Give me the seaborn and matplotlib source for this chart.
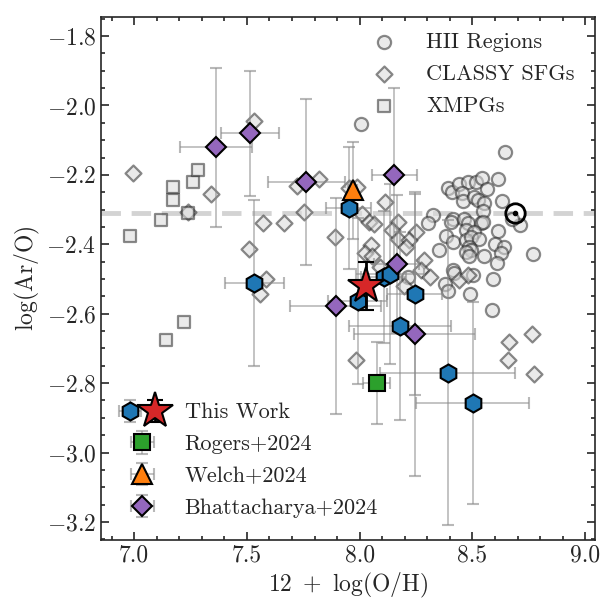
import numpy as np
import pandas as pd
import seaborn as sns
import matplotlib.pyplot as plt
from matplotlib.legend_handler import HandlerTuple

# ---- background samples ----
hii_oh = [8.646, 8.390, 8.408, 8.441, 8.479, 8.516, 8.542, 8.612, 8.564, 8.452,
          8.456, 8.508, 8.523, 8.552, 8.630, 8.548, 8.323, 8.301, 8.412, 8.404,
          8.464, 8.479, 8.471, 8.538, 8.548, 8.508, 8.612, 8.711, 8.382, 8.412,
          8.471, 8.493, 8.530, 8.486, 8.493, 8.471, 8.486, 8.600, 8.639, 8.627,
          8.552, 8.609, 8.768, 8.412, 8.419, 8.501, 8.590, 8.378, 8.390, 8.489,
          8.587, 8.004, 8.212, 8.676, 8.351]
hii_aro = [-2.135, -2.237, -2.249, -2.225, -2.220, -2.220, -2.208, -2.212, -2.242, -2.253,
           -2.275, -2.263, -2.271, -2.282, -2.276, -2.303, -2.316, -2.340, -2.328, -2.335,
           -2.328, -2.340, -2.359, -2.340, -2.335, -2.364, -2.362, -2.345, -2.376, -2.393,
           -2.388, -2.378, -2.385, -2.407, -2.417, -2.422, -2.434, -2.399, -2.407, -2.425,
           -2.434, -2.453, -2.427, -2.474, -2.484, -2.489, -2.500, -2.515, -2.535, -2.544,
           -2.588, -2.054, -2.494, -2.327, -2.417]

classy_oh = [6.997, 7.342, 7.533, 7.723, 7.819, 7.952, 7.990, 7.237, 7.572, 7.664,
             7.752, 7.508, 7.585, 7.556, 7.890, 7.982, 8.111, 8.008, 8.041, 8.062,
             8.168, 8.145, 8.249, 8.168, 8.219, 8.204, 8.052, 8.025, 8.056, 8.092,
             8.286, 8.273, 8.311, 8.197, 8.441, 8.482, 8.664, 8.763, 8.656, 8.775]
classy_aro = [-2.194, -2.256, -2.045, -2.232, -2.212, -2.239, -2.235, -2.308, -2.340, -2.338,
              -2.306, -2.414, -2.499, -2.544, -2.380, -2.732, -2.279, -2.313, -2.335, -2.342,
              -2.335, -2.359, -2.364, -2.385, -2.388, -2.409, -2.401, -2.426, -2.434, -2.465,
              -2.444, -2.473, -2.494, -2.520, -2.503, -2.489, -2.681, -2.659, -2.734, -2.774]

xmpg_oh = [6.982, 7.119, 7.172, 7.172, 7.237, 7.262, 7.283, 7.222, 7.142]
xmpg_aro = [-2.375, -2.330, -2.234, -2.271, -2.311, -2.220, -2.186, -2.623, -2.676]

# ---- this work ----
tw_oh = [7.533, 7.951, 7.991, 8.107, 8.133, 8.243, 8.178, 8.390, 8.501]
tw_aro = [-2.512, -2.296, -2.563, -2.495, -2.486, -2.544, -2.636, -2.770, -2.857]
tw_oh_err = [0.13, 0.10, 0.13, 0.10, 0.15, 0.12, 0.225, 0.30, 0.25]
tw_aro_err = [0.24, 0.175, 0.24, 0.19, 0.26, 0.29, 0.27, 0.44, 0.29]

stack_oh, stack_aro, stack_aro_err = 8.03, -2.52, 0.07

# ---- literature ----
rogers_oh, rogers_aro, rogers_oh_err, rogers_aro_err = 8.076, -2.799, 0.06, 0.118
welch_oh, welch_aro, welch_oh_err, welch_aro_err = 7.969, -2.244, 0.02, 0.14

bhat_oh = [7.363, 7.514, 7.764, 8.153, 8.164, 7.893, 8.243]
bhat_aro = [-2.121, -2.080, -2.220, -2.200, -2.457, -2.578, -2.659]
bhat_oh_err = [0.16, 0.13, 0.17, 0.10, 0.10, 0.20, 0.27]
bhat_aro_err = [0.23, 0.18, 0.24, 0.25, 0.20, 0.31, 0.41]

solar_oh, solar_aro = 8.69, -2.31

sns.set_style("ticks")
plt.rcParams['font.family'] = ['cmr10', 'DejaVu Serif']
plt.rcParams['mathtext.fontset'] = 'cm'
plt.rcParams['axes.formatter.use_mathtext'] = True
plt.rcParams['axes.unicode_minus'] = True

fig = plt.figure(figsize=(6.03, 6.01), dpi=100)
ax = fig.add_axes([0.1675, 0.1015, 0.8195, 0.8703])

bg = dict(facecolor='#d9d9d9', edgecolor='#2b2b2b', alpha=0.55, linewidth=1.6, zorder=2)
sns.scatterplot(x=hii_oh, y=hii_aro, marker='o', s=90, label='HII Regions', ax=ax, **bg)
sns.scatterplot(x=classy_oh, y=classy_aro, marker='D', s=66, label='CLASSY SFGs', ax=ax, **bg)
sns.scatterplot(x=xmpg_oh, y=xmpg_aro, marker='s', s=75, label='XMPGs', ax=ax, **bg)

ax.axhline(solar_aro, color='#c8c8c8', lw=3.5, ls=(0, (4, 2.2)), alpha=0.8, zorder=1)
ax.plot(solar_oh, solar_aro, 'o', ms=14, mfc='none', mec='k', mew=2, zorder=6)
ax.plot(solar_oh, solar_aro, 'o', ms=3, color='k', zorder=6)

eb = dict(ecolor='#8a8a8a', elinewidth=1.2, capsize=4, capthick=1.2, linestyle='none',
          mec='k', mew=1.5)
h_tw = ax.errorbar(tw_oh, tw_aro, xerr=tw_oh_err, yerr=tw_aro_err, fmt='h', ms=13,
                   color='#1f77b4', zorder=5, **eb)
h_st = ax.errorbar(stack_oh, stack_aro, yerr=stack_aro_err, fmt='*', ms=27, color='#d62728',
                   mec='k', mew=1.5, ecolor='k', elinewidth=2, capsize=6, capthick=2, zorder=7)
h_ro = ax.errorbar(rogers_oh, rogers_aro, xerr=rogers_oh_err, yerr=rogers_aro_err, fmt='s',
                   ms=11, color='#2ca02c', zorder=5, **eb)
h_we = ax.errorbar(welch_oh, welch_aro, xerr=welch_oh_err, yerr=welch_aro_err, fmt='^',
                   ms=14, color='#ff7f0e', zorder=5, **eb)
h_bh = ax.errorbar(bhat_oh, bhat_aro, xerr=bhat_oh_err, yerr=bhat_aro_err, fmt='D',
                   ms=10.5, color='#9467bd', zorder=5, **eb)
for h in (h_tw, h_ro, h_we, h_bh):
    for c in list(h[1]) + list(h[2]):
        c.set_alpha(0.6)

ax.set_xlim(6.853, 9.044)
ax.set_ylim(-3.252, -1.745)
ax.set_xticks([7.0, 7.5, 8.0, 8.5, 9.0])
ax.set_yticks([-3.2, -3.0, -2.8, -2.6, -2.4, -2.2, -2.0, -1.8])
ax.set_xticklabels(['7.0', '7.5', '8.0', '8.5', '9.0'])
ax.set_yticklabels(['$-3.2$', '$-3.0$', '$-2.8$', '$-2.6$', '$-2.4$', '$-2.2$', '$-2.0$', '$-1.8$'])
ax.xaxis.set_minor_locator(plt.MultipleLocator(0.1))
ax.yaxis.set_minor_locator(plt.MultipleLocator(0.05))
ax.tick_params(which='both', direction='in', top=True, right=True, labelsize=17, width=1.2)
ax.tick_params(which='major', length=6)
ax.tick_params(which='minor', length=3)
for s in ax.spines.values():
    s.set_linewidth(1.2)

ax.set_xlabel(r'$12\ +\ \log({\rm O/H})$', fontsize=17, labelpad=3)
ax.set_ylabel(r'$\log({\rm Ar/O})$', fontsize=17, labelpad=3)

leg1 = ax.legend(loc='upper right', bbox_to_anchor=(0.99, 1.0), frameon=False, fontsize=16,
                 handletextpad=0.9, labelspacing=0.55, borderaxespad=0.3)
ax.add_artist(leg1)
ax.legend([(h_tw, h_st), h_ro, h_we, h_bh],
          ['This Work', 'Rogers+2024', 'Welch+2024', 'Bhattacharya+2024'],
          handler_map={tuple: HandlerTuple(ndivide=None, pad=-0.2)},
          loc='lower left', bbox_to_anchor=(-0.015, 0.0), frameon=False, fontsize=16,
          handlelength=2.4, labelspacing=0.55, handletextpad=0.7, borderaxespad=0.6)

fig.savefig('out.png', dpi=100)
